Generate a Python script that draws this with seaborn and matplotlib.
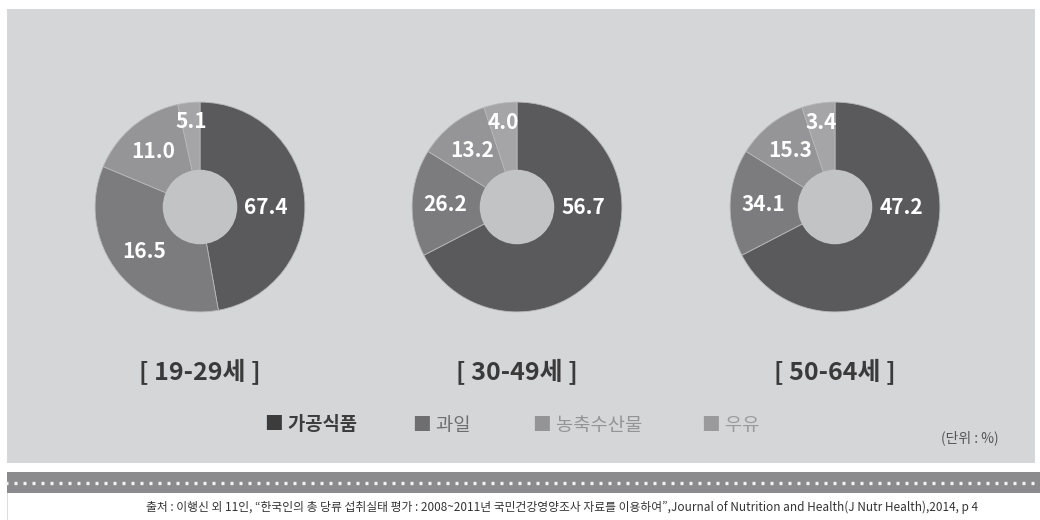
import matplotlib
matplotlib.use("Agg")
import matplotlib.pyplot as plt
import matplotlib.patches as mpatches
import numpy as np
import seaborn as sns

# Printed values (%) for each age group: 가공식품, 과일, 농축수산물, 우유
categories = ["가공식품", "과일", "농축수산물", "우유"]
age_groups = ["[ 19-29세 ]", "[ 30-49세 ]", "[ 50-64세 ]"]
share_19_29 = [67.4, 16.5, 11.0, 5.1]
share_30_49 = [56.7, 26.2, 13.2, 4.0]
share_50_64 = [47.2, 34.1, 15.3, 3.4]
printed = [share_19_29, share_30_49, share_50_64]
# the source graphic draws its wedges from other groups' numbers
# (1st donut is sized like 50-64, 2nd and 3rd like 19-29); keep that look
drawn = [share_50_64, share_19_29, share_19_29]

unit_text = "(단위 : %)"
source_kr = "출처 : 이행신 외 11인, \u201c한국인의 총 당류 섭취실태 평가 : 2008~2011년 국민건강영양조사 자료를 이용하여\u201d,"
source_en = "Journal of Nutrition and Health(J Nutr Health)"
source_end = ",2014, p 4"

sns.set_style("white")
plt.rcParams["font.family"] = ["Noto Sans CJK KR", "DejaVu Sans"]

W, H = 1040, 520
palette = sns.color_palette(["#5a5a5c", "#7c7c7e", "#959597", "#a5a5a7"])
panel_color = "#d5d6d8"
hole_color = "#c2c3c5"

fig = plt.figure(figsize=(W / 100, H / 100), dpi=100)
fig.patch.set_facecolor("white")

# background panels (pixel coordinates)
bg = fig.add_axes([0, 0, 1, 1])
bg.set_xlim(0, W)
bg.set_ylim(H, 0)
bg.axis("off")
bg.add_patch(mpatches.Rectangle((7, 9), 1028, 454, color=panel_color, lw=0))
bg.add_patch(mpatches.Rectangle((7, 472), 1033, 21, color="#8b8b8d", lw=0))
bg.plot([5, 1035], [483, 483], color="#f4f4f4", lw=2.4, solid_capstyle="butt",
        dashes=(0.9, 1.8))
bg.plot([7, 7], [493, 520], color="#dddddd", lw=0.8)

# donuts
centers = [200, 517, 835]
cy = 207
R = 107
hole = 38
label_r = [0.63, 0.68, 0.69, 0.82]
for cx, vals, sizes, age in zip(centers, printed, drawn, age_groups):
    ax = fig.add_axes([(cx - R) / W, 1 - (cy + R) / H, 2 * R / W, 2 * R / H])
    ax.pie(sizes, colors=palette, startangle=90, counterclock=False, radius=1,
           wedgeprops=dict(linewidth=0.6, edgecolor="#b8b8ba"))
    ax.add_patch(plt.Circle((0, 0), hole / R, color=hole_color, lw=0))
    ax.set_xlim(-1.02, 1.02)
    ax.set_ylim(-1.02, 1.02)
    ax.set_aspect("equal")
    ax.axis("off")
    total = sum(sizes)
    start = 0.0
    for i, (v, s) in enumerate(zip(vals, sizes)):
        mid = start + s / total * 180.0
        start += s / total * 360.0
        ang = 90.0 if i == 0 else mid
        t = np.deg2rad(ang)
        ax.text(label_r[i] * np.sin(t), label_r[i] * np.cos(t), f"{v:.1f}",
                ha="center", va="center", color="white", fontsize=15,
                fontweight="bold")
    fig.text(cx / W, 1 - 372 / H, age, ha="center", va="center",
             fontsize=18, fontweight="bold", color="#3a3a3a")

# legend
leg_x = [265, 413, 533, 702]
leg_col = ["#3c3c3c", "#6e6e70", "#949496", "#9a9a9c"]
leg_wt = ["bold", "normal", "normal", "normal"]
for x, name, c, wt in zip(leg_x, categories, leg_col, leg_wt):
    fig.text(x / W, 1 - 425 / H, "■ " + name, ha="left", va="center",
             fontsize=13.5, color=c, fontweight=wt)

fig.text(970 / W, 1 - 438 / H, unit_text, ha="center", va="center",
         fontsize=10, color="#555555")

# source line, journal title in italic
fy = 1 - 507 / H
kw = dict(va="center", ha="left", fontsize=8.5, color="#333333")
t1 = fig.text(0, fy, source_kr, **kw)
t2 = fig.text(0, fy, source_en, style="italic", **kw)
t3 = fig.text(0, fy, source_end, **kw)
fig.canvas.draw()
r = fig.canvas.get_renderer()
widths = [t.get_window_extent(r).width for t in (t1, t2, t3)]
x0 = 562 - sum(widths) / 2
for t, w in zip((t1, t2, t3), widths):
    t.set_x(x0 / W)
    x0 += w

fig.savefig("out.png", dpi=100)
